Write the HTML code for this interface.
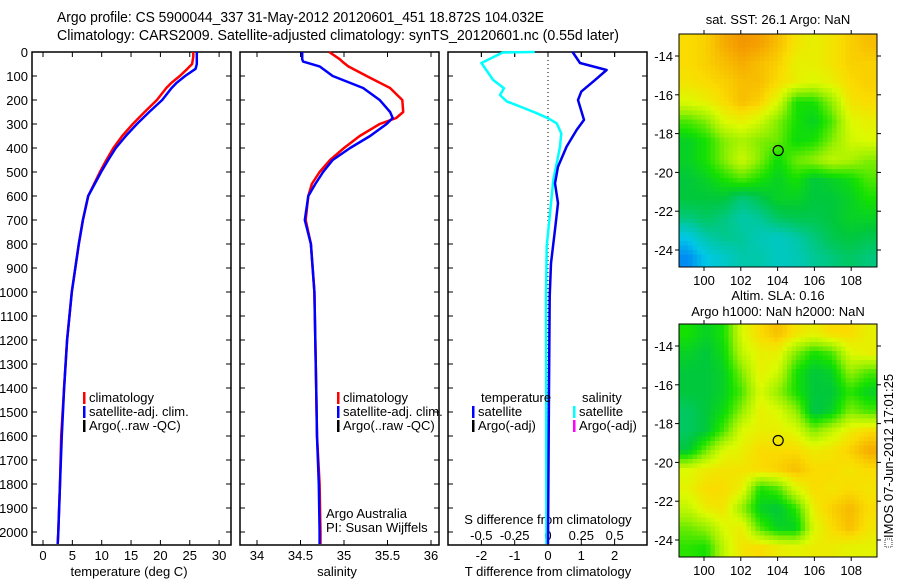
<!DOCTYPE html>
<html><head><meta charset="utf-8"><style>
html,body{margin:0;padding:0;background:#fff;}
svg{display:block;font-family:"Liberation Sans",sans-serif;}
text{font-size:13px;fill:#000;}
</style></head><body>
<svg id="fig" width="900" height="580" viewBox="0 0 900 580">
<text x="57" y="22" textLength="487" lengthAdjust="spacingAndGlyphs" style="font-size:14.5px">Argo profile: CS 5900044_337 31-May-2012 20120601_451 18.872S 104.032E</text>
<text x="57" y="40" textLength="562" lengthAdjust="spacingAndGlyphs" style="font-size:14.5px">Climatology: CARS2009. Satellite-adjusted climatology: synTS_20120601.nc (0.55d later)</text>
<g id="g"></g>
</svg>
<script>
// ---- data ----
const depths = [0,20,50,70,100,130,150,200,250,300,350,400,450,500,600,700,800,900,1000,1200,1400,1600,1800,2000,2050];
const tempClim = [25.6,25.6,25.4,24.6,23.3,21.8,21.0,19.4,17.3,15.3,13.5,12.0,10.8,9.7,7.7,6.8,6.1,5.5,4.9,4.1,3.6,3.1,2.9,2.6,2.5];
const tempSat  = [26.2,26.2,26.2,26.0,24.2,22.7,21.9,20.3,18.1,16.0,14.1,12.4,11.1,9.9,7.7,6.8,6.1,5.5,4.9,4.1,3.6,3.2,2.9,2.6,2.5];
const salDepths = [0,30,40,60,100,150,200,250,275,300,350,400,450,500,550,600,700,800,1000,1400,1600,1800,2000,2050];
const salClim = [34.83,34.95,34.98,35.05,35.26,35.53,35.67,35.68,35.6,35.41,35.18,35.0,34.84,34.72,34.63,34.59,34.56,34.62,34.66,34.68,34.69,34.72,34.73,34.73];
const salSat  = [34.52,34.52,34.53,34.72,34.87,35.22,35.41,35.53,35.56,35.49,35.3,35.07,34.87,34.76,34.67,34.59,34.55,34.62,34.66,34.68,34.69,34.71,34.72,34.72];
const tdDepths = [0,46,75,117,165,200,283,325,394,478,547,630,740,880,1019,1400,2050];
const tDiff = [0.74,0.96,1.76,1.41,1.0,0.9,1.08,0.86,0.56,0.3,0.21,0.3,0.21,0.09,0.05,0.03,0.0];
const sdDepths = [0,2,46,117,151,179,206,227,255,276,297,339,394,464,533,672,811,1019,2050];
const sDiff = [-0.1,-0.34,-0.5,-0.41,-0.33,-0.36,-0.31,-0.21,-0.085,0,0.065,0.1,0.09,0.065,0.04,0.015,-0.01,-0.015,-0.012];
const depthTicks = [0,100,200,300,400,500,600,700,800,900,1000,1100,1200,1300,1400,1500,1600,1700,1800,1900,2000];
const tempTicks = [0,5,10,15,20,25,30];
const salTicks = [34,34.5,35,35.5,36];
const tdTicks = [-2,-1,0,1,2];
const sdTicks = [-0.5,-0.25,0,0.25,0.5];
const sdTickLabels = ["-0.5","-0.25","0","0.25","0.5"];
const lonTicks = [100,102,104,106,108];
const latTicks = [-14,-16,-18,-20,-22,-24];
const sstGrid = [
[0.8,0.82,0.88,0.92,0.9,0.85,0.78,0.75,0.78,0.82,0.85],
[0.8,0.82,0.85,0.88,0.85,0.82,0.75,0.75,0.78,0.82,0.82],
[0.78,0.8,0.82,0.85,0.85,0.8,0.75,0.72,0.75,0.8,0.82],
[0.72,0.75,0.8,0.85,0.82,0.72,0.5,0.5,0.62,0.78,0.8],
[0.55,0.6,0.72,0.75,0.7,0.6,0.5,0.45,0.55,0.72,0.75],
[0.45,0.5,0.6,0.65,0.6,0.58,0.48,0.5,0.6,0.7,0.72],
[0.45,0.5,0.6,0.7,0.6,0.48,0.58,0.62,0.68,0.65,0.6],
[0.42,0.45,0.5,0.55,0.5,0.45,0.5,0.42,0.45,0.48,0.55],
[0.42,0.42,0.42,0.35,0.4,0.45,0.45,0.42,0.42,0.45,0.5],
[0.35,0.38,0.35,0.3,0.32,0.38,0.4,0.4,0.42,0.45,0.45],
[0.2,0.3,0.33,0.32,0.28,0.26,0.3,0.35,0.4,0.42,0.4],
[0.1,0.2,0.25,0.3,0.3,0.26,0.28,0.32,0.35,0.38,0.35]];
const slaGrid = [
[0.5,0.45,0.5,0.72,0.8,0.85,0.78,0.75,0.8,0.8,0.75],
[0.45,0.42,0.48,0.68,0.75,0.75,0.6,0.5,0.55,0.72,0.75],
[0.42,0.42,0.45,0.6,0.75,0.7,0.5,0.42,0.45,0.62,0.55],
[0.42,0.42,0.45,0.55,0.72,0.62,0.5,0.42,0.42,0.52,0.45],
[0.38,0.42,0.48,0.62,0.75,0.72,0.62,0.4,0.45,0.6,0.55],
[0.38,0.42,0.55,0.72,0.75,0.75,0.72,0.6,0.68,0.76,0.8],
[0.42,0.58,0.72,0.75,0.8,0.8,0.8,0.76,0.78,0.82,0.88],
[0.72,0.76,0.78,0.78,0.8,0.82,0.85,0.8,0.8,0.78,0.8],
[0.74,0.8,0.8,0.75,0.5,0.55,0.72,0.8,0.78,0.8,0.78],
[0.68,0.76,0.78,0.62,0.45,0.42,0.52,0.76,0.82,0.86,0.8],
[0.58,0.62,0.72,0.76,0.55,0.45,0.45,0.72,0.8,0.85,0.78],
[0.52,0.5,0.68,0.78,0.8,0.76,0.74,0.76,0.76,0.74,0.74]];
const argoLon = 104.032, argoLat = -18.872;

// ---- helpers ----
const NS = "http://www.w3.org/2000/svg";
const G = document.getElementById('g');
function mk(tag, attrs, parent){ const e=document.createElementNS(NS,tag); for(const k in attrs) e.setAttribute(k,attrs[k]); (parent||G).appendChild(e); return e; }
function txt(x,y,s,anchor,parent){ const t=mk('text',{x:x,y:y,'text-anchor':anchor||'start'},parent); t.textContent=s; return t; }

const TOP=52, BOT=545;
const yD = d => TOP + d*0.24;
const xT = v => 43 + v*5.87;
const xS = v => 257 + (v-34)*87;
const xTd = v => 548 + v*33.3;
const xSd = v => 548 + v*133.3;

function panel(x0,x1,name,xticks,xf){
  const g=mk('g',{});
  
  
  mk('rect',{x:x0,y:TOP,width:x1-x0,height:BOT-TOP,fill:'none',stroke:'#000','stroke-width':1.5},g);
  depthTicks.forEach(d=>{ const y=yD(d);
    mk('line',{x1:x0,x2:x0+5,y1:y,y2:y,stroke:'#000'},g);
    mk('line',{x1:x1-5,x2:x1,y1:y,y2:y,stroke:'#000'},g); });
  xticks.forEach(v=>{ const x=xf(v);
    mk('line',{x1:x,x2:x,y1:TOP,y2:TOP+5,stroke:'#000'},g);
    mk('line',{x1:x,x2:x,y1:BOT-5,y2:BOT,stroke:'#000'},g); });
  return g;
}
function line(xs,ds,xf,color,name,w){
  const pts=xs.map((v,i)=>xf(v).toFixed(1)+','+yD(ds[i]).toFixed(1)).join(' ');
  const p=mk('polyline',{points:pts,fill:'none',stroke:color,'stroke-width':w||2.5,'stroke-linejoin':'round'});
  
  
}

// panel 1
panel(32,231,'temperature-panel',tempTicks,xT);
depthTicks.forEach(d=>{ const t=txt(28,yD(d)+5,String(d),'end');
    });
tempTicks.forEach(v=>{ const t=txt(xT(v),560,String(v),'middle');
    });
txt(129,576,'temperature (deg C)','middle');
line(tempClim,depths,xT,'#ff0000','temperature-climatology-line');
line(tempSat,depths,xT,'#0000ff','temperature-satellite-line');

// panel 2
panel(240,439,'salinity-panel',salTicks,xS);
salTicks.forEach(v=>{ const t=txt(xS(v),560,String(v),'middle');
    });
txt(337,576,'salinity','middle');
line(salClim,salDepths,xS,'#ff0000','salinity-climatology-line');
line(salSat,salDepths,xS,'#0000ff','salinity-satellite-line');

// panel 3
panel(448,647,'difference-panel',tdTicks,xTd);
sdTicks.forEach(v=>{ const x=xSd(v); mk('line',{x1:x,x2:x,y1:TOP,y2:TOP+5,stroke:'#000'}); });
mk('line',{x1:548,x2:548,y1:TOP,y2:BOT,stroke:'#000','stroke-dasharray':'1,3'});
tdTicks.forEach(v=>{ const t=txt(xTd(v),560,String(v),'middle');
    });
sdTicks.forEach((v,i)=>{ const t=txt(xSd(v),540,sdTickLabels[i],'middle');
    });
txt(548,524,'S difference from climatology','middle');
txt(548,576,'T difference from climatology','middle');
line(sDiff,sdDepths,xSd,'#00ffff','salinity-difference-line');
line(tDiff,tdDepths,xTd,'#0000ee','temperature-difference-line');

// legends
function legItem(x,y,color,label,name){
  const g=mk('g',{});
  
  
  mk('rect',{x:x,y:y-10,width:2.5,height:12,fill:color},g);
  txt(x+6,y,label,'start',g);
}
legItem(83,402,'#ff0000','climatology','legend-climatology');
legItem(83,416,'#0000ff','satellite-adj. clim.','legend-satellite-adj');
legItem(83,430,'#000000','Argo(..raw -QC)','legend-argo');
legItem(337,402,'#ff0000','climatology','legend-climatology-2');
legItem(337,416,'#0000ff','satellite-adj. clim.','legend-satellite-adj-2');
legItem(337,430,'#000000','Argo(..raw -QC)','legend-argo-2');
txt(481,402,'temperature');
txt(582,402,'salinity');
legItem(472,416,'#0000ff','satellite','legend-t-satellite');
legItem(472,430,'#000000','Argo(-adj)','legend-t-argo');
legItem(573,416,'#00ffff','satellite','legend-s-satellite');
legItem(573,430,'#ff00ff','Argo(-adj)','legend-s-argo');
txt(326,518,'Argo Australia');
txt(326,532,'PI: Susan Wijffels');

// maps
function cmap(v){
  const stops=[[0,[0,80,255]],[0.2,[0,200,230]],[0.3,[0,200,170]],[0.42,[0,200,60]],[0.5,[20,225,0]],[0.62,[150,240,0]],[0.72,[220,250,0]],[0.8,[250,220,0]],[0.9,[245,160,0]],[1,[230,110,0]]];
  for(let i=1;i<stops.length;i++){ if(v<=stops[i][0]){ const a=stops[i-1],b=stops[i],f=(v-a[0])/(b[0]-a[0]);
    return 'rgb('+a[1].map((c,k)=>Math.round(c+(b[1][k]-c)*f)).join(',')+')'; } }
  return 'rgb(230,110,0)';
}
function sample(grid,fx,fy){ // bilinear lookup in grid index space
  const rows=grid.length, cols=grid[0].length;
  const x=Math.max(0,Math.min(cols-1,fx)), y=Math.max(0,Math.min(rows-1,fy));
  const x0=Math.floor(x), y0=Math.floor(y), x1=Math.min(cols-1,x0+1), y1=Math.min(rows-1,y0+1);
  const ax=x-x0, ay=y-y0;
  return grid[y0][x0]*(1-ax)*(1-ay)+grid[y0][x1]*ax*(1-ay)+grid[y1][x0]*(1-ax)*ay+grid[y1][x1]*ax*ay;
}
const MX0=679, MX1=877;
const xLon = lo => 704 + (lo-100)*18.4;
function map(grid,y0,y1,name){
  const g=mk('g',{});
  
  
  const yLat = la => y0 + 22 + (-14-la)*19.4;
  const rows=grid.length, cols=grid[0].length;
  const cw=(MX1-MX0)/cols, ch=(y1-y0)/rows;
  const px=4.5;
  for(let yy=y0; yy<y1; yy+=px){
    for(let xx=MX0; xx<MX1; xx+=px){
      const v=sample(grid,(xx+px/2-MX0)/cw-0.5,(yy+px/2-y0)/ch-0.5);
      const cell=mk('rect',{x:xx,y:yy,width:Math.min(px,MX1-xx)+0.5,height:Math.min(px,y1-yy)+0.5,fill:cmap(v)},g);
      
      
    }
  }
  mk('rect',{x:MX0,y:y0,width:MX1-MX0,height:y1-y0,fill:'none',stroke:'#000','stroke-width':1},g);
  lonTicks.forEach(lo=>{ const x=xLon(lo);
    mk('line',{x1:x,x2:x,y1:y0-4,y2:y0,stroke:'#000'},g);
    mk('line',{x1:x,x2:x,y1:y1,y2:y1+4,stroke:'#000'},g);
    txt(x,y1+18,String(lo),'middle',g); });
  latTicks.forEach(la=>{ const y=yLat(la);
    mk('line',{x1:MX0-4,x2:MX0,y1:y,y2:y,stroke:'#000'},g);
    mk('line',{x1:MX1,x2:MX1+4,y1:y,y2:y,stroke:'#000'},g);
    txt(MX0-6,y+5,String(la),'end',g); });
  const m=mk('circle',{cx:xLon(argoLon),cy:yLat(argoLat),r:5,fill:'none',stroke:'#000','stroke-width':1.2},g);
  
  
}
map(sstGrid,34,267,'sst-map');
map(slaGrid,324,557,'sla-map');
txt(778,24,'sat. SST: 26.1 Argo: NaN','middle');
txt(778,300,'Altim. SLA: 0.16','middle');
txt(778,316,'Argo h1000: NaN h2000: NaN','middle');
const ts=txt(0,0,'IMOS 07-Jun-2012 17:01:25','start');
ts.setAttribute('transform','translate(893,538) rotate(-90)');

mk('rect',{x:885,y:539,width:7,height:8,fill:'none',stroke:'#000','stroke-width':0.8,'stroke-dasharray':'1,1'});
</script>
</body></html>
